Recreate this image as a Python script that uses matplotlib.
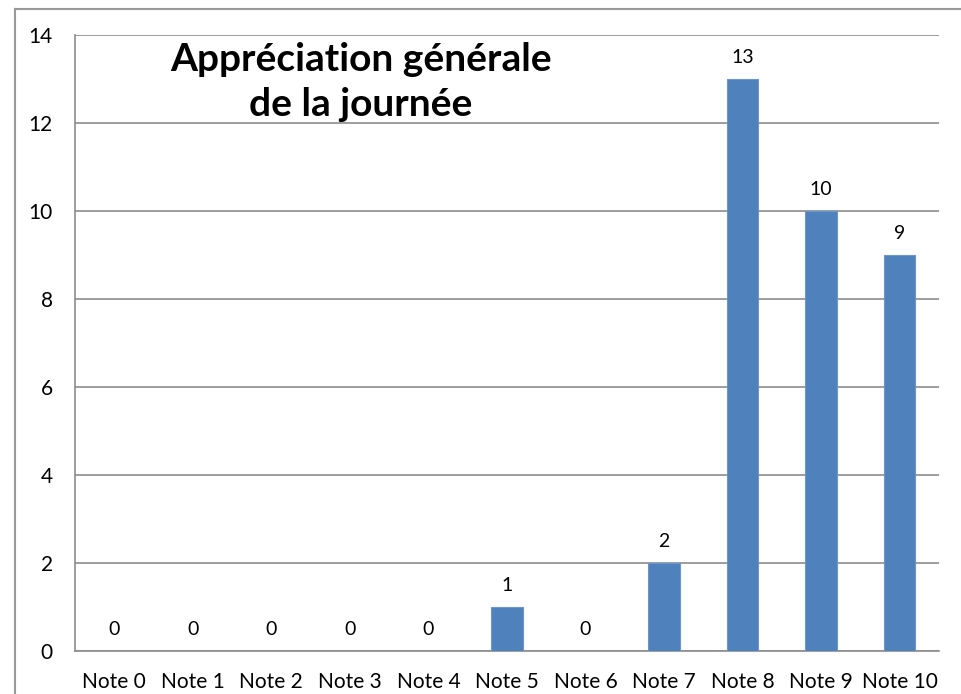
import matplotlib
matplotlib.use("Agg")
import matplotlib.pyplot as plt
from matplotlib.lines import Line2D

# donnees
categories = ["Note 0", "Note 1", "Note 2", "Note 3", "Note 4", "Note 5",
              "Note 6", "Note 7", "Note 8", "Note 9", "Note 10"]
valeurs = [0, 0, 0, 0, 0, 1, 0, 2, 13, 10, 9]
yticks = [0, 2, 4, 6, 8, 10, 12, 14]
titre = "Appréciation générale\nde la journée"

W, H = 962, 694
fig = plt.figure(figsize=(W / 100, H / 100), dpi=100)
plt.rcParams['font.family'] = ['Lato', 'DejaVu Sans']

ax = fig.add_axes([75 / W, 1 - 651 / H, (939 - 75) / W, (651 - 35) / H])

x = range(len(categories))
bars = ax.bar(x, valeurs, width=0.4, color="#4F81BD", edgecolor="#6E95C8",
              linewidth=0.8, zorder=3)
for xi, v in zip(x, valeurs):
    ax.text(xi, v + 0.3, str(v), ha="center", va="bottom", fontsize=14)

ax.set_xlim(-0.5, len(categories) - 0.5)
ax.set_ylim(0, 14)
ax.set_yticks(yticks)
ax.set_xticks(list(x))
ax.set_xticklabels(categories)
ax.tick_params(axis="x", length=0, pad=15, labelsize=15)
ax.tick_params(axis="y", length=0, pad=16, labelsize=15)
ax.grid(axis="y", color="#8C8C8C", linewidth=1.2, zorder=0)

for s in ["top", "right"]:
    ax.spines[s].set_visible(False)
for s in ["left", "bottom"]:
    ax.spines[s].set_color("#8C8C8C")
    ax.spines[s].set_linewidth(1.2)

ax.text(361 / W, 1 - 82 / H, titre, transform=fig.transFigure, ha="center",
        va="center", fontsize=28, fontweight="bold", linespacing=1.35)

# cadre exterieur
fig.add_artist(Line2D([15 / W, 15 / W], [0, 1 - 9 / H], color="#999999",
                      linewidth=1.5, transform=fig.transFigure))
fig.add_artist(Line2D([15 / W, 1], [1 - 9 / H, 1 - 9 / H], color="#999999",
                      linewidth=1.5, transform=fig.transFigure))

fig.savefig("out.png", dpi=100)
